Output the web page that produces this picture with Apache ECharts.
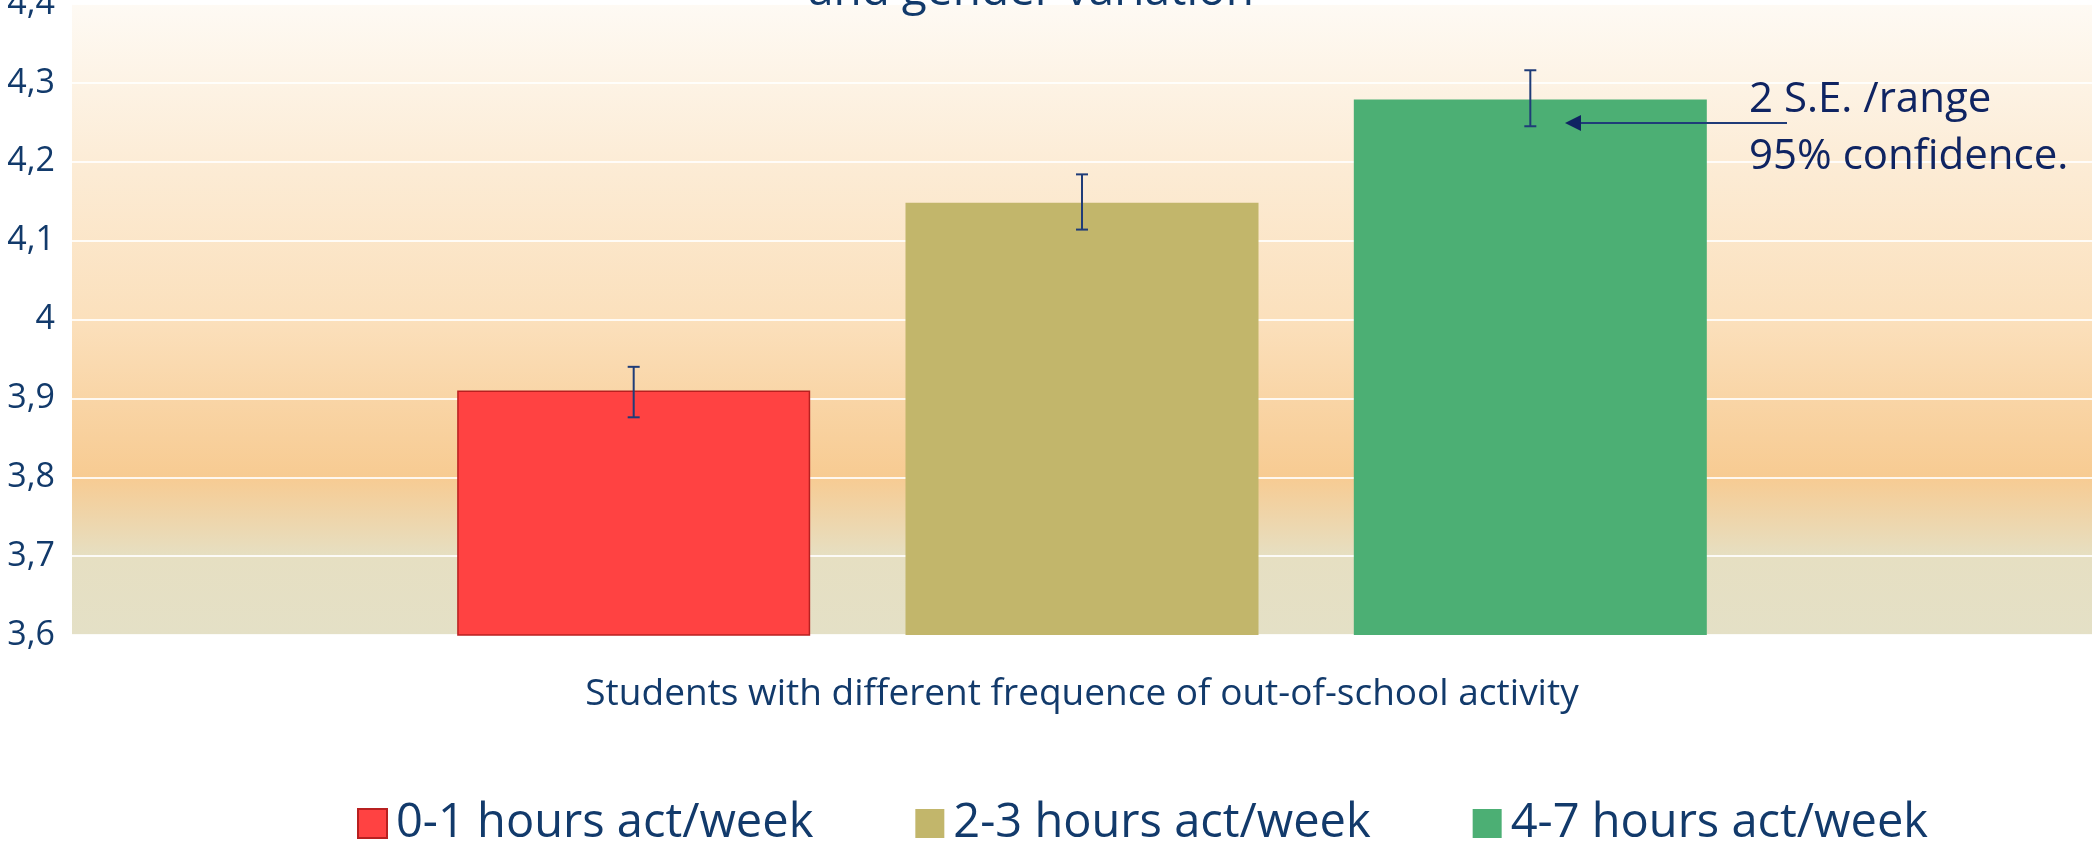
<!DOCTYPE html>
<html>
<head>
<meta charset="utf-8">
<script src="https://cdn.jsdelivr.net/npm/echarts@6/dist/echarts.min.js"></script>
<style>
  html, body { margin: 0; padding: 0; background: #ffffff; }
  #chart { width: 2092px; height: 846px; }
</style>
</head>
<body>
<div id="chart"></div>
<script>
// data
const categories = ["Students with different frequence of out-of-school activity"];
const seriesNames = ["0-1 hours act/week", "2-3 hours act/week", "4-7 hours act/week"];
const means = [3.91, 4.148, 4.279];
const errLow = [3.876, 4.114, 4.245];
const errHigh = [3.94, 4.184, 4.316];
const barColors = ["#ff4242", "#c2b66b", "#4caf74"];
const yMin = 3.6;
const yMax = 4.4;
const yStep = 0.1;

const BAR_W = 353;
const BAR_GAP = 0.27;
const navy = "#123a6b";
const font = "Open Sans";

const chart = echarts.init(document.getElementById("chart"));

const barSeries = seriesNames.map((name, i) => ({
  name: name,
  type: "bar",
  barWidth: BAR_W,
  barGap: BAR_GAP * 100 + "%",
  data: [means[i]],
  itemStyle: {
    color: barColors[i],
    borderColor: i === 0 ? "#b82020" : barColors[i],
    borderWidth: i === 0 ? 1.5 : 0
  },
  z: 2
}));

// error bars drawn through the axes
const errSeries = {
  type: "custom",
  name: "err",
  data: means.map((m, i) => [0, errHigh[i], errLow[i], i]),
  encode: { x: 0, y: [1, 2] },
  z: 5,
  silent: true,
  renderItem: (params, api) => {
    const i = api.value(3);
    const off = (i - 1) * BAR_W * (1 + BAR_GAP);
    const hi = api.coord([0, api.value(1)]);
    const lo = api.coord([0, api.value(2)]);
    const x = hi[0] + off;
    const st = { stroke: "#1f3c78", lineWidth: 2 };
    return {
      type: "group",
      children: [
        { type: "line", shape: { x1: x, y1: hi[1], x2: x, y2: lo[1] }, style: st },
        { type: "line", shape: { x1: x - 6, y1: hi[1], x2: x + 6, y2: hi[1] }, style: st },
        { type: "line", shape: { x1: x - 6, y1: lo[1], x2: x + 6, y2: lo[1] }, style: st }
      ]
    };
  }
};

const option = {
  animation: false,
  backgroundColor: "#ffffff",
  grid: {
    left: 72,
    right: 0,
    top: 4,
    bottom: 211,
    containLabel: false,
    outerBoundsMode: "none",
    show: true,
    borderWidth: 0,
    backgroundColor: {
      type: "linear", x: 0, y: 0, x2: 0, y2: 1,
      colorStops: [
        { offset: 0, color: "#fefaf4" },
        { offset: 0.25, color: "#fcecd6" },
        { offset: 0.5, color: "#fbe0bc" },
        { offset: 0.626, color: "#f9d5a6" },
        { offset: 0.75, color: "#f7cb92" },
        { offset: 0.875, color: "#e6dfc2" },
        { offset: 1, color: "#e4e0c6" }
      ]
    }
  },
  legend: {
    data: seriesNames,
    left: 357,
    top: 800,
    padding: 0,
    itemWidth: 29,
    itemHeight: 29,
    itemGap: 102,
    icon: "rect",
    textStyle: { color: navy, fontSize: 47, fontFamily: font, padding: [0, 0, 0, 4] }
  },
  xAxis: {
    type: "category",
    data: categories,
    axisLine: { show: false },
    axisTick: { show: false },
    axisLabel: { color: navy, fontSize: 37, fontFamily: font, margin: 41 }
  },
  yAxis: {
    type: "value",
    min: yMin,
    max: yMax,
    interval: yStep,
    axisLine: { show: false },
    axisTick: { show: false },
    axisLabel: {
      color: navy,
      fontSize: 34,
      fontFamily: font,
      margin: 17,
      formatter: v => String(Number(v.toFixed(1))).replace(".", ",")
    },
    splitLine: { lineStyle: { color: "rgba(255,255,255,0.85)", width: 2 } }
  },
  graphic: [
    {
      type: "text",
      x: 1031,
      y: -8,
      style: {
        text: "and gender variation",
        fill: navy,
        font: "46px 'Open Sans'",
        textAlign: "center",
        textVerticalAlign: "middle"
      },
      z: 10
    },
    {
      type: "text",
      x: 1749,
      y: 72,
      style: {
        text: "2 S.E. /range\n95% confidence.",
        fill: "#0f2462",
        font: "42px 'Open Sans'",
        lineHeight: 57,
        textVerticalAlign: "top"
      },
      z: 10
    },
    {
      type: "line",
      shape: { x1: 1787, y1: 123, x2: 1578, y2: 123 },
      style: { stroke: "#1f3c78", lineWidth: 2 },
      z: 10
    },
    {
      type: "polygon",
      shape: { points: [[1565, 123], [1581, 115], [1581, 131]] },
      style: { fill: "#0f2462" },
      z: 10
    }
  ],
  series: barSeries.concat([errSeries])
};

chart.setOption(option);
</script>
</body>
</html>
